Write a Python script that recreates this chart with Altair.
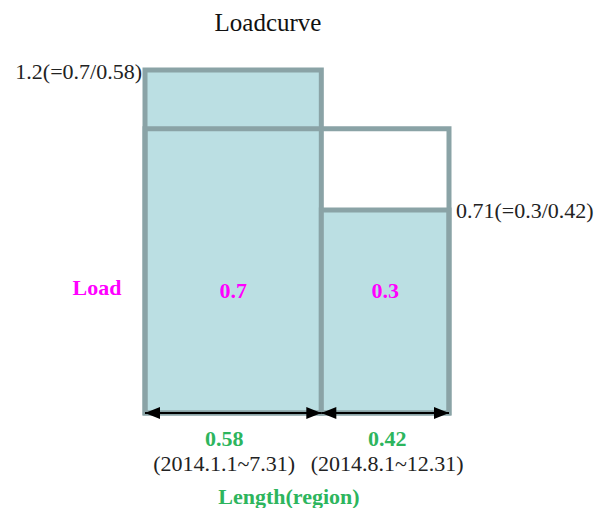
import altair as alt
import pandas as pd

# ---- data ----
periods = ["(2014.1.1~7.31)", "(2014.8.1~12.31)"]
lengths = [0.58, 0.42]
loads = [0.7, 0.3]
load_labels = ["0.7", "0.3"]
length_labels = ["0.58", "0.42"]
height_labels = ["1.2(=0.7/0.58)", "0.71(=0.3/0.42)"]

FILL = "#bbdfe3"
EDGE = "#8aa3a6"
GREEN = "#2db55d"
MAGENTA = "#ff00ff"
FONT = "Liberation Serif"

x0 = [0.0, lengths[0]]
x1 = [lengths[0], lengths[0] + lengths[1]]
heights = [l / w for l, w in zip(loads, lengths)]
rects = pd.DataFrame({
    "x0": x0, "x1": x1, "y0": [0, 0], "y1": heights,
    "mid": [(a + b) / 2 for a, b in zip(x0, x1)],
    "load": load_labels, "length": length_labels, "period": periods,
    "hlabel": height_labels,
})
total = pd.DataFrame({"x0": [0.0], "x1": [sum(lengths)], "y0": [0], "y1": [sum(loads)]})

xs = alt.Scale(domain=[0, 1], range=[137, 441])
ys = alt.Scale(domain=[0, 1.2], range=[405, 64])
X = lambda f: alt.X(f, type="quantitative", scale=xs, axis=None)
Y = lambda f: alt.Y(f, type="quantitative", scale=ys, axis=None)

base = alt.Chart(rects)

fills = base.mark_rect(fill=FILL, stroke=EDGE, strokeWidth=5).encode(
    x=X("x0"), x2="x1", y=Y("y0"), y2="y1")
outline = alt.Chart(total).mark_rect(fill=None, stroke=EDGE, strokeWidth=5).encode(
    x=X("x0"), x2="x1", y=Y("y0"), y2="y1")

arrows = base.mark_rule(color="black", strokeWidth=2).encode(
    x=X("x0"), x2="x1", y=Y("y0"))
left_head = "M0,0 L1,-0.4 L1,0.4 Z"
right_head = "M0,0 L-1,-0.4 L-1,0.4 Z"
heads_l = base.mark_point(shape=left_head, size=900, filled=True, color="black",
                          opacity=1, strokeWidth=0).encode(x=X("x0"), y=Y("y0"))
heads_r = base.mark_point(shape=right_head, size=900, filled=True, color="black",
                          opacity=1, strokeWidth=0).encode(x=X("x1"), y=Y("y0"))

load_txt = base.mark_text(font=FONT, fontSize=22, fontWeight="bold", color=MAGENTA,
                          baseline="middle").encode(
    x=X("mid"), y=alt.Y("yl:Q", scale=ys, axis=None), text="load").transform_calculate(yl="0.43")

under = []
for i, shift in enumerate([-9, 2]):
    seg = alt.Chart(rects.iloc[[i]])
    under.append(seg.mark_text(font=FONT, fontSize=22, fontWeight="bold", color=GREEN,
                               baseline="middle", dx=shift, dy=26).encode(
        x=X("mid"), y=Y("y0"), text="length"))
    under.append(seg.mark_text(font=FONT, fontSize=22, color="#222222",
                               baseline="middle", dx=shift, dy=51).encode(
        x=X("mid"), y=Y("y0"), text="period"))

h_left = alt.Chart(rects.iloc[[0]]).mark_text(font=FONT, fontSize=22, color="#222222",
                                              align="right", baseline="middle", dx=-3, dy=2).encode(
    x=X("x0"), y=Y("y1"), text="hlabel")
h_right = alt.Chart(rects.iloc[[1]]).mark_text(font=FONT, fontSize=22, color="#222222",
                                               align="left", baseline="middle", dx=7, dy=1).encode(
    x=X("x1"), y=Y("y1"), text="hlabel")

anno = pd.DataFrame({"x": [0.0], "y": [0.44], "t": ["Load"]})
load_axis = alt.Chart(anno).mark_text(font=FONT, fontSize=22, fontWeight="bold", color=MAGENTA,
                                      baseline="middle", dx=-48).encode(
    x=X("x"), y=Y("y"), text="t")

len_axis = alt.Chart(pd.DataFrame({"x": [0.5], "y": [0.0], "t": ["Length(region)"]})).mark_text(
    font=FONT, fontSize=22, fontWeight="bold", color=GREEN, baseline="middle", dx=-8, dy=84
).encode(x=X("x"), y=Y("y"), text="t")

title = alt.Chart(pd.DataFrame({"x": [0.5], "y": [max(heights)], "t": ["Loadcurve"]})).mark_text(
    font=FONT, fontSize=25, color="#111111", baseline="top", dx=-29, dy=-59
).encode(x=X("x"), y=Y("y"), text="t")

chart = alt.layer(
    fills, outline, arrows, heads_l, heads_r, load_txt, *under,
    h_left, h_right, load_axis, len_axis, title
).properties(
    width=591, height=500, padding=0, autosize=alt.AutoSizeParams(type="none"),
    background="white"
).configure_view(stroke=None)

chart.save("out.html", embed_options={"renderer": "svg", "actions": False})
